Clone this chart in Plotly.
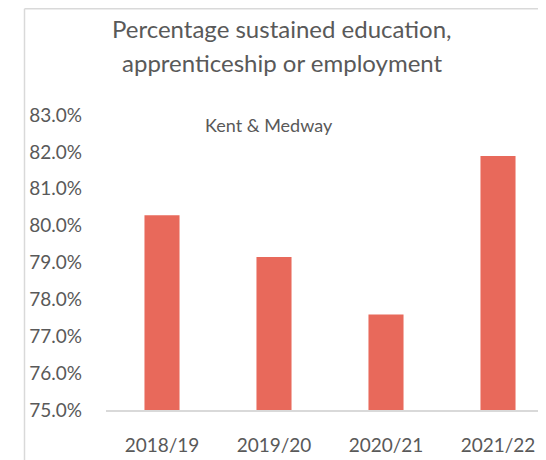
import plotly.graph_objects as go

categories = ["2018/19", "2019/20", "2020/21", "2021/22"]
values = [80.28, 79.15, 77.59, 81.89]
tick_vals = [75, 76, 77, 78, 79, 80, 81, 82, 83]
tick_text = [f"{v:.1f}%" for v in tick_vals]

W, H = 546, 460
plot_left, plot_right = 98, 546
plot_top, plot_bottom = 107, 402
pw = plot_right - plot_left
ph = plot_bottom - plot_top

def px_x(p):
    return (p - plot_left) / pw

def px_y(p):
    return (plot_bottom - p) / ph

font_family = "Lato, 'Open Sans', sans-serif"
grey = "#595959"

fig = go.Figure()
fig.add_trace(go.Bar(
    x=categories, y=values,
    marker=dict(color="#e8695b", line=dict(width=0)),
    width=0.313,
    hoverinfo="skip",
))

fig.update_layout(
    width=W, height=H,
    margin=dict(l=plot_left, r=W - plot_right, t=plot_top, b=H - plot_bottom),
    paper_bgcolor="white", plot_bgcolor="white",
    showlegend=False,
    font=dict(family=font_family, color=grey),
    xaxis=dict(
        range=[-0.5, 3.5],
        showgrid=False, zeroline=False,
        showline=True, linecolor="#d9d9d9", linewidth=1.5,
        ticks="", tickfont=dict(size=19, color=grey),
        ticklabelstandoff=17,
        fixedrange=True,
    ),
    yaxis=dict(
        range=[75, 83],
        tickvals=tick_vals, ticktext=tick_text,
        showgrid=False, zeroline=False, showline=False,
        ticks="", tickfont=dict(size=19, color=grey),
        ticklabelstandoff=23,
        fixedrange=True,
    ),
    shapes=[
        dict(type="line", xref="paper", yref="paper",
             x0=px_x(16.5), x1=px_x(560), y0=px_y(0.75), y1=px_y(0.75),
             line=dict(color="#d9d9d9", width=1.5)),
        dict(type="line", xref="paper", yref="paper",
             x0=px_x(16.5), x1=px_x(16.5), y0=px_y(0.75), y1=px_y(470),
             line=dict(color="#d9d9d9", width=1.5)),
    ],
    annotations=[
        dict(text="Percentage sustained education,",
             xref="paper", yref="paper", x=px_x(274), y=px_y(20.5),
             xanchor="center", yanchor="middle", showarrow=False,
             font=dict(size=24, color=grey, family=font_family)),
        dict(text="apprenticeship or employment",
             xref="paper", yref="paper", x=px_x(274), y=px_y(55),
             xanchor="center", yanchor="middle", showarrow=False,
             font=dict(size=24, color=grey, family=font_family)),
        dict(text="Kent &amp; Medway",
             xref="paper", yref="paper", x=px_x(260.5), y=px_y(116.5),
             xanchor="center", yanchor="middle", showarrow=False,
             font=dict(size=18, color=grey, family=font_family)),
    ],
)

fig.write_html("out.html")
